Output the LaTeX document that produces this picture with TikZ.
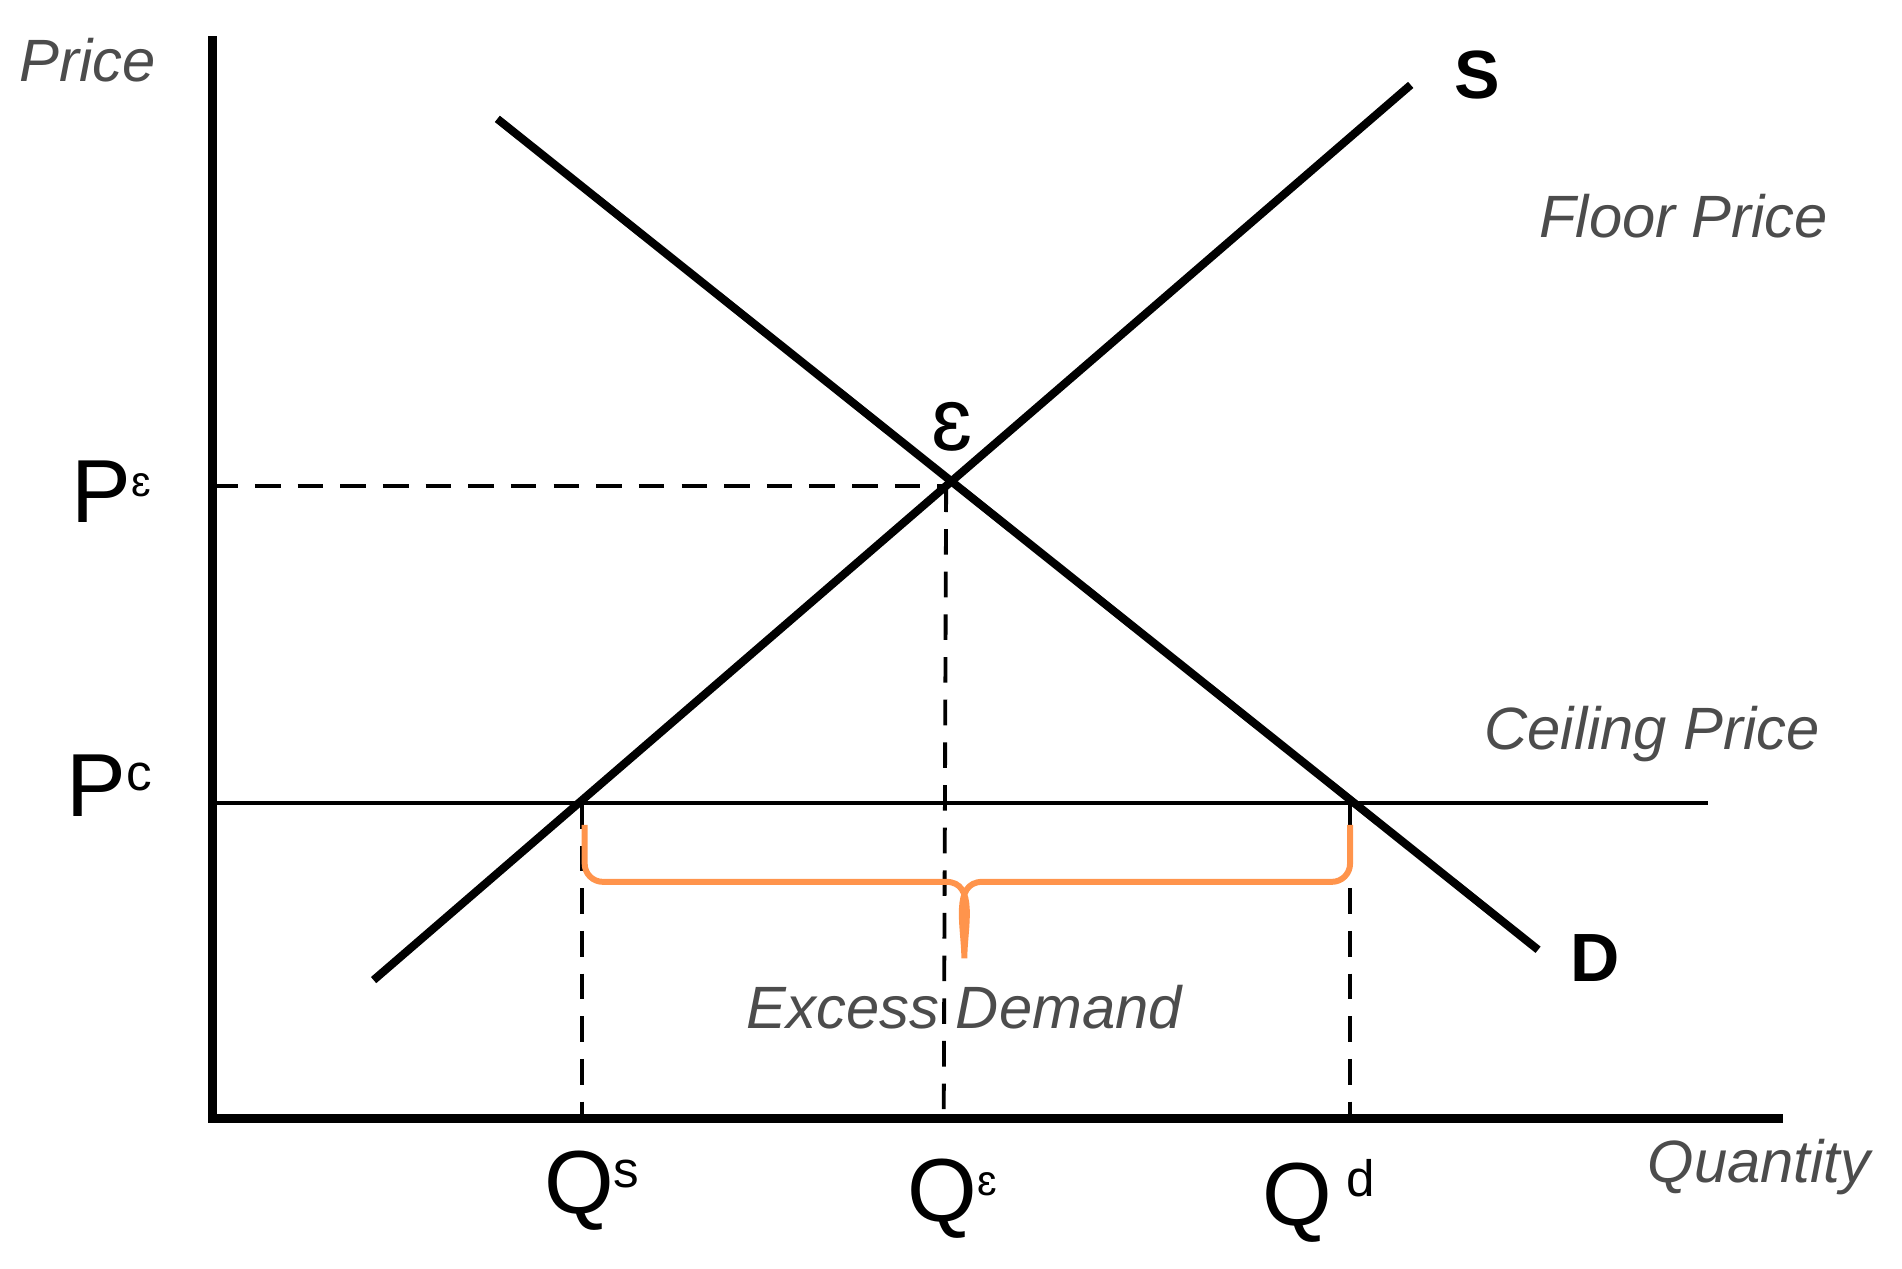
\documentclass[tikz,border=0pt]{standalone}
\usepackage{fontspec}
\setmainfont{Liberation Sans}
\begin{document}
\begin{tikzpicture}[x=0.01cm,y=-0.01cm,
  axis/.style={line width=2.2pt},
  curve/.style={line width=1.9pt},
  guide/.style={dashed,line width=0.9pt,dash pattern=on 6pt off 4pt},
  glabel/.style={font=\itshape\fontsize{14}{16}\selectfont,text=black!70},
  blabel/.style={font=\bfseries\fontsize{16}{18}\selectfont},
  plabel/.style={font=\fontsize{21}{24}\selectfont}]
\useasboundingbox (0,0) rectangle (1568,1046);
\coordinate (O) at (175,922);
\coordinate (Ytop) at (175,30);
\coordinate (Xend) at (1470,922);
\draw[axis] (Ytop) -- (O) -- (Xend);
\coordinate (S0) at (308,808); \coordinate (S1) at (1163,70);
\coordinate (D0) at (410,98); \coordinate (D1) at (1268,783);
\coordinate (E) at (780,401);
\draw[guide] (175,401) -- (E);
\draw[guide] (E) -- (778,922);
\draw[line width=1pt] (175,662) -- (1408,662);
\draw[guide] (480,662) -- (480,922);
\draw[guide] (1113,662) -- (1113,922);
\draw[curve] (S0) -- (S1);
\draw[curve] (D0) -- (D1);
\draw[orange!80!red!70,line width=1.4pt] (482,680) -- (482,712) to[out=-90,in=180] (497,727) -- (780,727) to[out=0,in=90] (795,790) to[out=90,in=180] (810,727) -- (1098,727) to[out=0,in=-90] (1113,712) -- (1113,680);
\node[glabel] (price) at (72,50) {Price};
\node[blabel] (s) at (1218,62) {S};
\node[glabel] (floor) at (1388,178) {Floor Price};
\node[glabel] (ceil) at (1362,605) {Ceiling Price};
\node[blabel] (d) at (1315,790) {D};
\node[glabel] (ex) at (795,830) {Excess Demand};
\node[glabel] (q) at (1450,962) {Quantity};
\node[plabel] (eps) at (785,352) {ɛ};
\node[plabel] (pe) at (92,405) {P\raisebox{0.55ex}{\fontsize{10}{10}\selectfont ɛ}};
\node[plabel] (pc) at (90,648) {P\raisebox{0.55ex}{\fontsize{12}{12}\selectfont c}};
\node[plabel] (qs) at (488,982) {Q\raisebox{0.55ex}{\fontsize{12}{12}\selectfont s}};
\node[plabel] (qe) at (785,988) {Q\raisebox{0.55ex}{\fontsize{10}{10}\selectfont ɛ}};
\node[plabel] (qd) at (1087,990) {Q\,\raisebox{0.6ex}{\fontsize{12}{12}\selectfont d}};
\end{tikzpicture}
\end{document}
